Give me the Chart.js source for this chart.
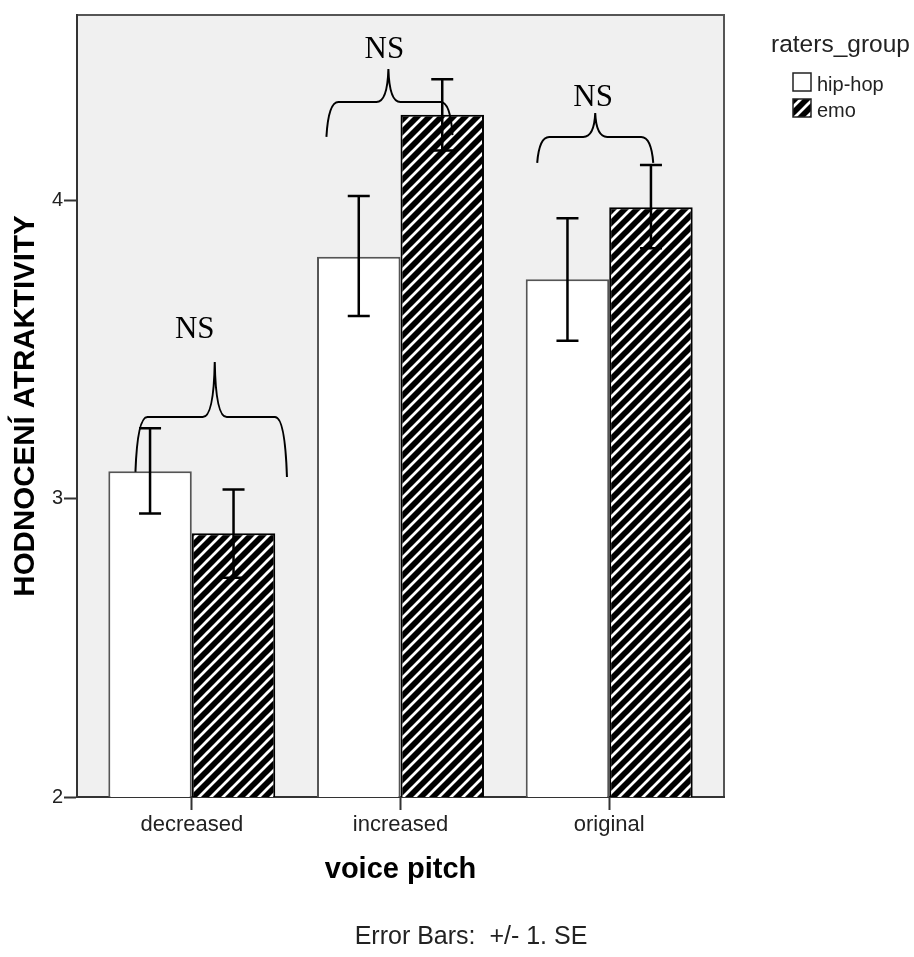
<!DOCTYPE html>
<html>
<head>
<meta charset="utf-8">
<script src="https://cdn.jsdelivr.net/npm/chart.js@4.4.1/dist/chart.umd.min.js"></script>
<style>
  html, body { margin: 0; padding: 0; background: #fff; }
  #wrap { width: 914px; height: 957px; }
</style>
</head>
<body>
<div id="wrap"><canvas id="chart" width="914" height="957"></canvas></div>
<script>
// values (mean rating, +/- 1 SE)
const pitchLabels = ['decreased', 'increased', 'original'];
const hipHopMeans = [3.093, 3.813, 3.737];
const hipHopUpper = [3.237, 4.017, 3.942];
const hipHopLower = [2.951, 3.614, 3.531];
const emoMeans    = [2.885, 4.289, 3.979];
const emoUpper    = [3.032, 4.408, 4.121];
const emoLower    = [2.736, 4.169, 3.841];
const yTicks = [2, 3, 4];

// hand-drawn "NS" braces (x in category units, y in rating units)
const braceLeft  = [-0.27, 0.645, 1.655];
const braceTip   = [0.11, 0.942, 1.933];
const braceRight = [0.456, 1.249, 2.211];
const braceEndL  = [3.091, 4.215, 4.128];
const braceEndR  = [3.074, 4.221, 4.128];
const braceLevel = [3.275, 4.332, 4.215];
const braceTop   = [3.46, 4.443, 4.295];
const nsX = [0.014, 0.923, 1.923];
const nsY = [3.567, 4.507, 4.346];

Chart.defaults.font.family = '"Liberation Sans", Arial, sans-serif';
Chart.defaults.color = '#222';

const canvas = document.getElementById('chart');

// black with white "/" stripes, like the SPSS fill
function makeHatch(ctx) {
  const s = 12;
  const c = document.createElement('canvas');
  c.width = s; c.height = s;
  const g = c.getContext('2d');
  g.fillStyle = '#000';
  g.fillRect(0, 0, s, s);
  g.strokeStyle = '#fff';
  g.lineWidth = 2.8;
  g.beginPath();
  g.moveTo(-s / 2, s / 2); g.lineTo(s / 2, -s / 2);
  g.moveTo(0, s); g.lineTo(s, 0);
  g.moveTo(s / 2, s * 1.5); g.lineTo(s * 1.5, s / 2);
  g.stroke();
  return ctx.createPattern(c, 'repeat');
}
const hatch = makeHatch(canvas.getContext('2d'));

const decor = {
  id: 'decor',
  beforeDraw(chart) {
    const { ctx, chartArea: a } = chart;
    ctx.save();
    ctx.fillStyle = '#f0f0f0';
    ctx.fillRect(a.left, a.top, a.right - a.left, a.bottom - a.top);
    ctx.strokeStyle = '#555';
    ctx.lineWidth = 2;
    ctx.beginPath();
    ctx.moveTo(a.left, a.top); ctx.lineTo(a.right, a.top); ctx.lineTo(a.right, a.bottom);
    ctx.stroke();
    ctx.restore();
  },
  afterDatasetsDraw(chart) {
    const ctx = chart.ctx, y = chart.scales.y;
    const bands = [[hipHopUpper, hipHopLower], [emoUpper, emoLower]];
    ctx.save();
    ctx.strokeStyle = '#000';
    ctx.lineWidth = 2.5;
    bands.forEach(([up, lo], d) => {
      chart.getDatasetMeta(d).data.forEach((bar, i) => {
        const yt = y.getPixelForValue(up[i]), yb = y.getPixelForValue(lo[i]);
        ctx.beginPath();
        ctx.moveTo(bar.x, yt); ctx.lineTo(bar.x, yb);
        ctx.moveTo(bar.x - 11, yt); ctx.lineTo(bar.x + 11, yt);
        ctx.moveTo(bar.x - 11, yb); ctx.lineTo(bar.x + 11, yb);
        ctx.stroke();
      });
    });
    ctx.restore();
  },
  afterDraw(chart) {
    const { ctx, chartArea: a } = chart;
    const x = chart.scales.x, y = chart.scales.y;
    ctx.save();

    // braces + NS
    ctx.strokeStyle = '#000';
    ctx.lineWidth = 2;
    ctx.fillStyle = '#000';
    ctx.font = '31px "Liberation Serif", "DejaVu Serif", serif';
    ctx.textAlign = 'center';
    ctx.textBaseline = 'middle';
    braceLeft.forEach((_, i) => {
      const xl = x.getPixelForValue(braceLeft[i]);
      const xc = x.getPixelForValue(braceTip[i]);
      const xr = x.getPixelForValue(braceRight[i]);
      const yl = y.getPixelForValue(braceEndL[i]);
      const yr = y.getPixelForValue(braceEndR[i]);
      const yh = y.getPixelForValue(braceLevel[i]);
      const yt = y.getPixelForValue(braceTop[i]);
      ctx.beginPath();
      ctx.moveTo(xl, yl);
      ctx.quadraticCurveTo(xl + 2, yh, xl + 12, yh);
      ctx.lineTo(xc - 12, yh);
      ctx.quadraticCurveTo(xc - 1, yh, xc, yt);
      ctx.quadraticCurveTo(xc + 1, yh, xc + 12, yh);
      ctx.lineTo(xr - 12, yh);
      ctx.quadraticCurveTo(xr - 2, yh, xr, yr);
      ctx.stroke();
      ctx.fillText('NS', x.getPixelForValue(nsX[i]), y.getPixelForValue(nsY[i]));
    });

    // legend
    const lx = a.right + 47;
    ctx.textAlign = 'left';
    ctx.textBaseline = 'alphabetic';
    ctx.fillStyle = '#222';
    ctx.font = '24.5px "Liberation Sans", Arial, sans-serif';
    ctx.fillText('raters_group', lx, 52);
    ctx.font = '20px "Liberation Sans", Arial, sans-serif';
    ctx.lineWidth = 1.5;
    ctx.strokeStyle = '#222';
    ctx.fillStyle = '#fff';
    ctx.fillRect(lx + 22, 73, 18, 18);
    ctx.strokeRect(lx + 22, 73, 18, 18);
    ctx.fillStyle = hatch;
    ctx.fillRect(lx + 22, 99, 18, 18);
    ctx.strokeRect(lx + 22, 99, 18, 18);
    ctx.fillStyle = '#222';
    ctx.fillText('hip-hop', lx + 46, 91);
    ctx.fillText('emo', lx + 46, 117);

    // footnote
    ctx.textAlign = 'center';
    ctx.font = '25px "Liberation Sans", Arial, sans-serif';
    ctx.fillText('Error Bars:  +/- 1. SE', 471, 944);
    ctx.restore();
  }
};

new Chart(canvas, {
  type: 'bar',
  data: {
    datasets: [
      {
        label: 'hip-hop',
        data: hipHopMeans.map((v, i) => ({ x: i, y: v })),
        backgroundColor: '#fff',
        borderColor: '#555',
        borderWidth: 2,
        categoryPercentage: 0.8,
        barPercentage: 1
      },
      {
        label: 'emo',
        data: emoMeans.map((v, i) => ({ x: i, y: v })),
        backgroundColor: hatch,
        borderColor: '#000',
        borderWidth: 2,
        categoryPercentage: 0.8,
        barPercentage: 1
      }
    ]
  },
  options: {
    responsive: false,
    animation: false,
    layout: { padding: { left: 0, top: 15, right: 190, bottom: 0 } },
    plugins: { legend: { display: false }, tooltip: { enabled: false } },
    scales: {
      x: {
        type: 'linear',
        offset: false,
        min: -0.55,
        max: 2.55,
        afterBuildTicks: s => { s.ticks = pitchLabels.map((_, i) => ({ value: i })); },
        afterFit: s => { s.height = 160; },
        grid: { offset: false, drawOnChartArea: false, tickLength: 13, tickColor: '#333', tickWidth: 2 },
        border: { display: true, color: '#333', width: 2 },
        ticks: {
          callback: v => pitchLabels[v],
          font: { size: 22 },
          color: '#222',
          padding: 2,
          maxRotation: 0,
          autoSkip: false
        },
        title: {
          display: true,
          text: 'voice pitch',
          color: '#000',
          font: { size: 29, weight: 'bold' },
          padding: { top: 0, bottom: 70 }
        }
      },
      y: {
        min: 2,
        max: 4.624,
        afterBuildTicks: s => { s.ticks = yTicks.map(v => ({ value: v })); },
        afterFit: s => { s.width = 77; },
        grid: { drawOnChartArea: false, tickLength: 13, tickColor: '#333', tickWidth: 2 },
        border: { display: true, color: '#333', width: 2 },
        ticks: { font: { size: 20 }, color: '#222', padding: 1 },
        title: {
          display: true,
          text: 'HODNOCENÍ ATRAKTIVITY',
          color: '#000',
          font: { size: 29.5, weight: 'bold' },
          padding: { top: 8, bottom: 0 }
        }
      }
    }
  },
  plugins: [decor]
});
</script>
</body>
</html>
